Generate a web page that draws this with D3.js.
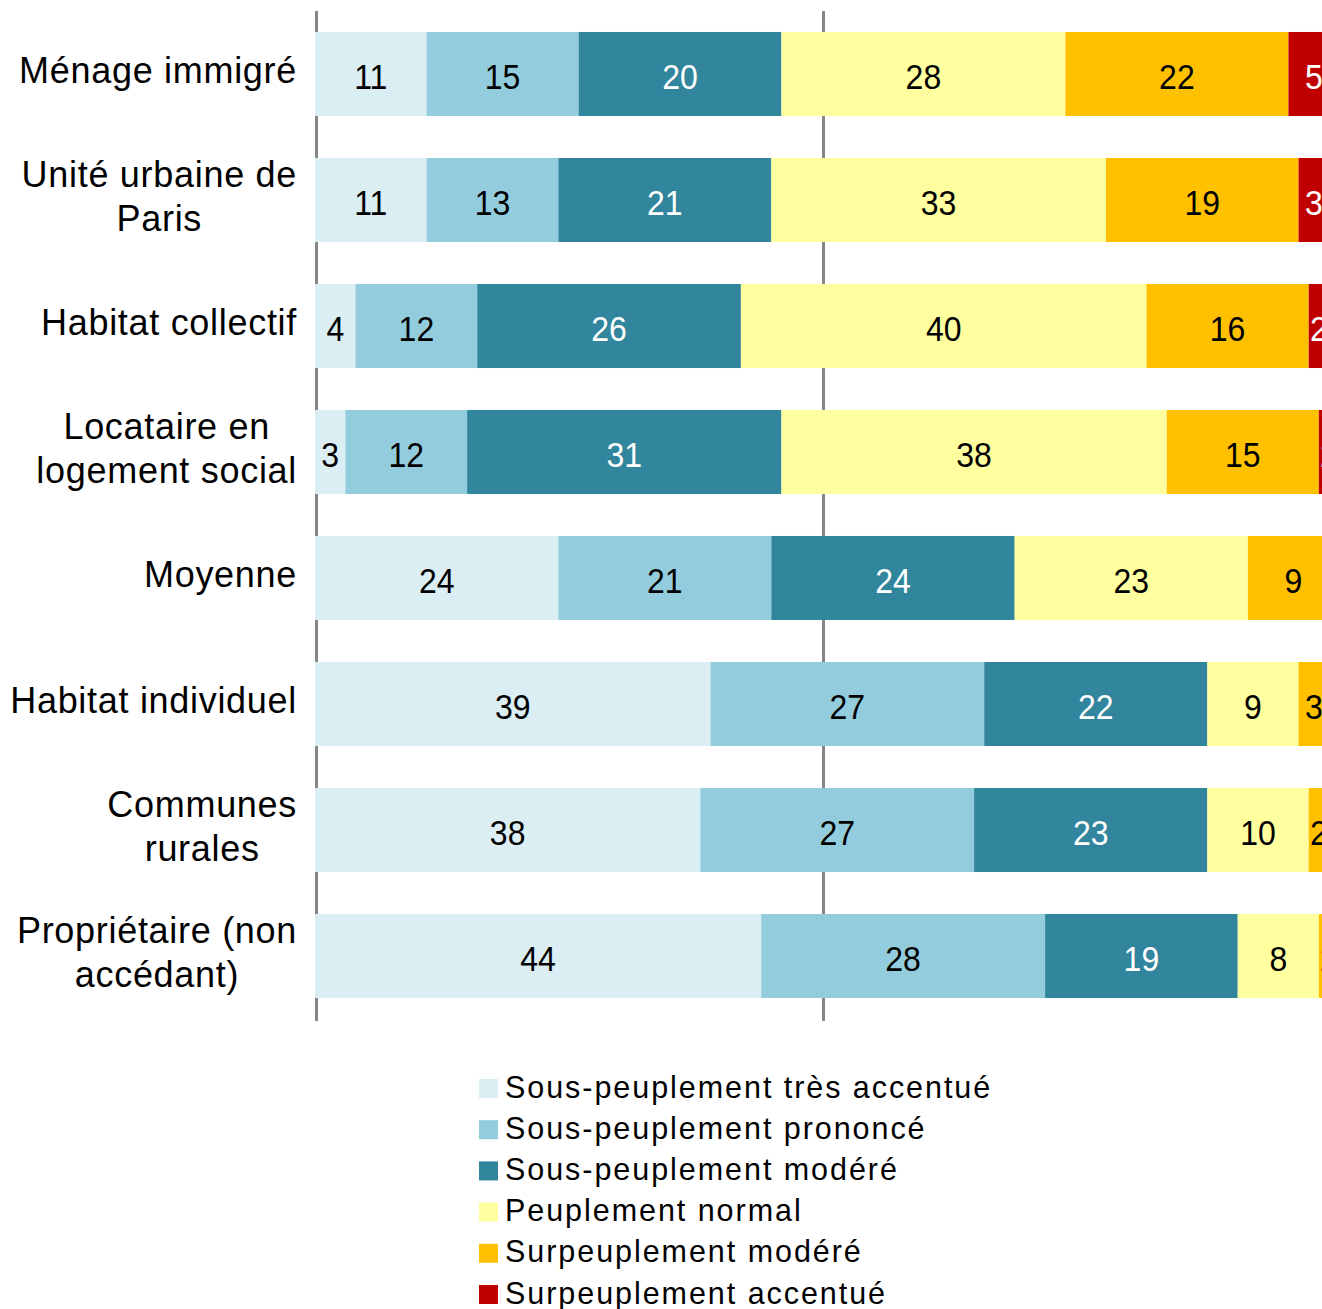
<!DOCTYPE html>
<html>
<head>
<meta charset="utf-8">
<script src="https://cdn.jsdelivr.net/npm/d3@7"></script>
<style>
  html, body { margin: 0; padding: 0; background: #fff; overflow: hidden; }
  svg { display: block; }
  text { font-family: "Liberation Sans", Arial, sans-serif; }
</style>
</head>
<body>
<svg id="chart" width="1322" height="1309"></svg>
<script>
// Categories (one label may span two lines)
const categories = [
  ["Ménage immigré"],
  ["Unité urbaine de", "Paris"],
  ["Habitat collectif"],
  ["Locataire en", "logement social"],
  ["Moyenne"],
  ["Habitat individuel"],
  ["Communes", "rurales"],
  ["Propriétaire (non", "accédant)"]
];

// Series names
const seriesNames = [
  "Sous-peuplement très accentué",
  "Sous-peuplement prononcé",
  "Sous-peuplement modéré",
  "Peuplement normal",
  "Surpeuplement modéré",
  "Surpeuplement accentué"
];

// Shares (%) per series, in category order
const sousTresAccentue = [11, 11, 4, 3, 24, 39, 38, 44];
const sousPrononce     = [15, 13, 12, 12, 21, 27, 27, 28];
const sousModere       = [20, 21, 26, 31, 24, 22, 23, 19];
const normal           = [28, 33, 40, 38, 23, 9, 10, 8];
const surModere        = [22, 19, 16, 15, 9, 3, 2, 2];
const surAccentue      = [5, 3, 2, 2, 0, 0, 0, 0];

// Gridline positions
const gridValues = [0, 50];

const seriesValues = [sousTresAccentue, sousPrononce, sousModere, normal, surModere, surAccentue];
const colors = ["#daeef3", "#93cddd", "#31859c", "#ffff9f", "#ffc000", "#c00000"];
const labelColors = ["#000", "#000", "#fff", "#000", "#000", "#fff"];

const svg = d3.select("#chart");

const x = d3.scaleLinear().domain([0, 100]).range([315, 1329]);
const y = d3.scaleBand()
  .domain(d3.range(categories.length))
  .range([11, 1019])
  .paddingInner(0.333)
  .paddingOuter(0.1665);

// Build rows for stacking
const rows = categories.map((c, i) => {
  const r = { idx: i };
  seriesNames.forEach((s, j) => { r[s] = seriesValues[j][i]; });
  return r;
});
const stacked = d3.stack().keys(seriesNames)(rows);

// Vertical gridlines
svg.append("g").selectAll("line")
  .data(gridValues)
  .join("line")
  .attr("x1", d => x(d) + 1.5)
  .attr("x2", d => x(d) + 1.5)
  .attr("y1", 11)
  .attr("y2", 1021)
  .attr("stroke", "#868686")
  .attr("stroke-width", 3);

const plot = svg.append("g");

const layers = plot.selectAll("g.layer")
  .data(stacked)
  .join("g")
  .attr("class", "layer")
  .attr("fill", (d, i) => colors[i]);

layers.selectAll("rect")
  .data(d => d.filter(p => p[1] - p[0] > 0))
  .join("rect")
  .attr("x", d => x(d[0]))
  .attr("y", d => y(d.data.idx))
  .attr("width", d => x(d[1]) - x(d[0]))
  .attr("height", y.bandwidth());

// Value labels centered in each segment
const valueSize = 32;
layers.each(function(layer, li) {
  d3.select(this).selectAll("text")
    .data(layer.filter(p => p[1] - p[0] > 0))
    .join("text")
    .attr("transform", d => {
      const cx = (x(d[0]) + x(d[1])) / 2;
      const cy = y(d.data.idx) + y.bandwidth() / 2 + 14.5;
      return `translate(${cx},${cy}) scale(1,1.08)`;
    })
    .attr("text-anchor", "middle")
    .attr("font-size", valueSize)
    .attr("fill", labelColors[li])
    .text(d => d[1] - d[0]);
});

// Category labels (centered block, right-aligned at the axis)
const catSize = 36;
const lineGap = 44;
const catGroup = svg.append("g");
categories.forEach((lines, i) => {
  const cy = y(i) + y.bandwidth() / 2;
  const g = catGroup.append("g");
  const texts = lines.map((t, k) => {
    const by = cy + 9 + (k - (lines.length - 1) / 2) * lineGap;
    return g.append("text")
      .attr("font-size", catSize)
      .attr("letter-spacing", 0.7)
      .attr("text-anchor", "middle")
      .attr("transform", `translate(0,${by})`)
      .attr("fill", "#000")
      .text(t);
  });
  const maxW = d3.max(texts, t => t.node().getComputedTextLength());
  g.attr("transform", `translate(${297 - maxW / 2},0)`);
});

// Legend
const legend = svg.append("g");
seriesNames.forEach((name, i) => {
  const top = 1079 + i * 41.2;
  legend.append("rect")
    .attr("x", 479).attr("y", top)
    .attr("width", 19).attr("height", 19)
    .attr("fill", colors[i]);
  legend.append("text")
    .attr("x", 505).attr("y", top + 18.5)
    .attr("font-size", 30.5)
    .attr("letter-spacing", 1.95)
    .attr("fill", "#000")
    .text(name);
});
</script>
</body>
</html>
